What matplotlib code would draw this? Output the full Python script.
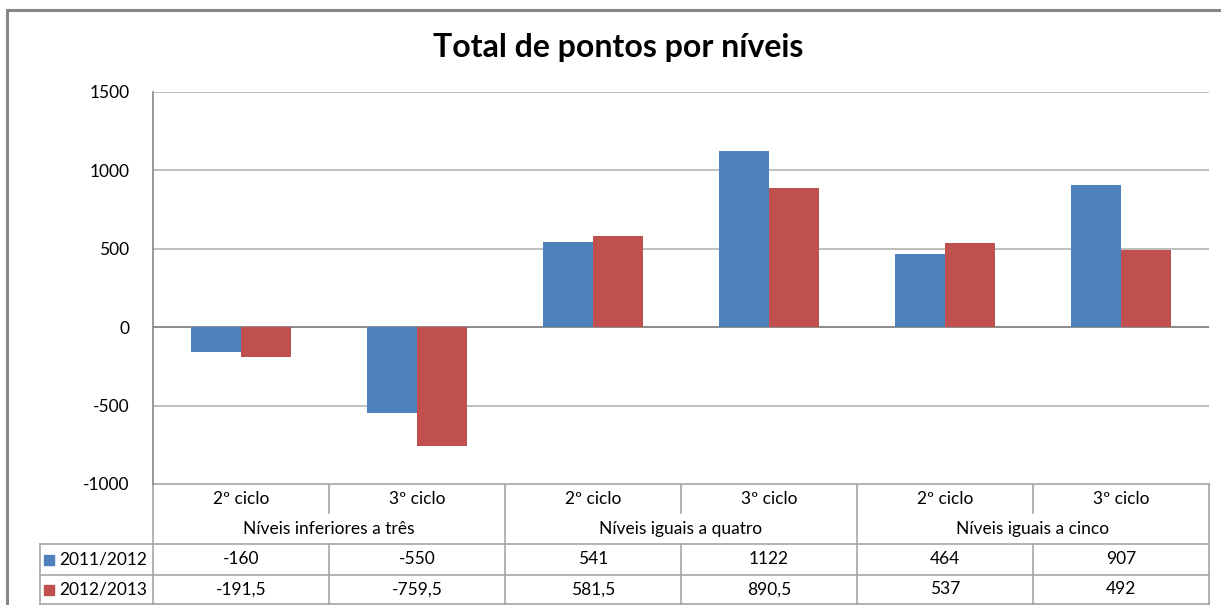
import matplotlib.pyplot as plt
from matplotlib.transforms import blended_transform_factory
import numpy as np

# dados
grupos = ["Níveis inferiores a três", "Níveis iguais a quatro", "Níveis iguais a cinco"]
ciclos = ["2º ciclo", "3º ciclo", "2º ciclo", "3º ciclo", "2º ciclo", "3º ciclo"]
series = ["2011/2012", "2012/2013"]
v2011 = [-160, -550, 541, 1122, 464, 907]
v2012 = [-191.5, -759.5, 581.5, 890.5, 537, 492]
yticks = [-1000, -500, 0, 500, 1000, 1500]

azul = '#4F81BD'
vermelho = '#C0504D'
cinza = '#868686'
grelha = '#B3B3B3'

plt.rcParams['font.family'] = ['Lato', 'DejaVu Sans']

W, H = 1221, 605
fig = plt.figure(figsize=(W / 100, H / 100), dpi=100)

# eixo sobreposto em pixels para moldura e tabela
ov = fig.add_axes([0, 0, 1, 1])
ov.set_xlim(0, W)
ov.set_ylim(H, 0)
ov.axis('off')

L, R, T, B = 153, 1209, 92, 484
ax = fig.add_axes([L / W, 1 - B / H, (R - L) / W, (B - T) / H])

x = np.arange(len(ciclos))
w = 0.284
ax.bar(x - w / 2, v2011, w, color=azul, zorder=3)
ax.bar(x + w / 2, v2012, w, color=vermelho, zorder=3)
ax.set_xlim(-0.5, len(ciclos) - 0.5)
ax.set_ylim(-1000, 1500)
ax.set_yticks(yticks)
ax.set_yticklabels([str(t) for t in yticks], fontsize=12.5)
ax.tick_params(axis='y', length=0, pad=17)
ax.set_xticks([])
ax.grid(axis='y', color=grelha, linewidth=1.2, zorder=0)
ax.axhline(0, color=cinza, linewidth=1.2, zorder=2)
for s in ['top', 'right', 'bottom']:
    ax.spines[s].set_visible(False)
ax.spines['left'].set_color(cinza)
ax.spines['left'].set_linewidth(1.2)
ax.patch.set_alpha(0)

# moldura exterior
ov.plot([7, 7], [H, 10], color=cinza, lw=2.2)
ov.plot([7, W], [10, 10], color=cinza, lw=2.2)

# titulo
ov.text(618, 47, "Total de pontos por níveis", ha='center', va='center',
        fontsize=23, fontweight='bold')

# tabela de dados
tr = blended_transform_factory(ax.transData, ov.transData)
lc = '#A6A6A6'
n = len(ciclos)
r1, r2, r3 = 544, 575, 604
ov.plot([-0.5, n - 0.5], [B, B], color=lc, lw=1.2, transform=tr)
ov.plot([-0.5, n - 0.5], [r3, r3], color=lc, lw=1.2, transform=tr)
ov.plot([40, L], [r1, r1], color=lc, lw=1.2)
ov.plot([40, L], [r2, r2], color=lc, lw=1.2)
ov.plot([40, L], [r3, r3], color=lc, lw=1.2)
ov.plot([40, 40], [r1, r3], color=lc, lw=1.2)
ov.plot([-0.5, n - 0.5], [r1, r1], color=lc, lw=1.2, transform=tr)
ov.plot([-0.5, n - 0.5], [r2, r2], color=lc, lw=1.2, transform=tr)
for i in range(n + 1):
    xe = i - 0.5
    if i % 2 == 0:
        ov.plot([xe, xe], [B, r3], color=lc, lw=1.2, transform=tr)
    else:
        ov.plot([xe, xe], [B, 513], color=lc, lw=1.2, transform=tr)
        ov.plot([xe, xe], [r1, r3], color=lc, lw=1.2, transform=tr)

fs = 12.5
for i, c in enumerate(ciclos):
    ov.text(i, 499, c, ha='center', va='center', fontsize=fs, transform=tr)
    ov.text(i, 559.5, f"{v2011[i]:g}".replace('.', ','), ha='center', va='center', fontsize=fs, transform=tr)
    ov.text(i, 589.5, f"{v2012[i]:g}".replace('.', ','), ha='center', va='center', fontsize=fs, transform=tr)
for g, nome in enumerate(grupos):
    ov.text(2 * g + 0.5, 529, nome, ha='center', va='center', fontsize=fs, transform=tr)

for cor, nome, yy in [(azul, series[0], 559.5), (vermelho, series[1], 589.5)]:
    ov.plot([49], [yy], marker='s', markersize=7, color=cor, linestyle='none')
    ov.text(59, yy, nome, ha='left', va='center', fontsize=fs)

fig.savefig('out.png', dpi=100)
